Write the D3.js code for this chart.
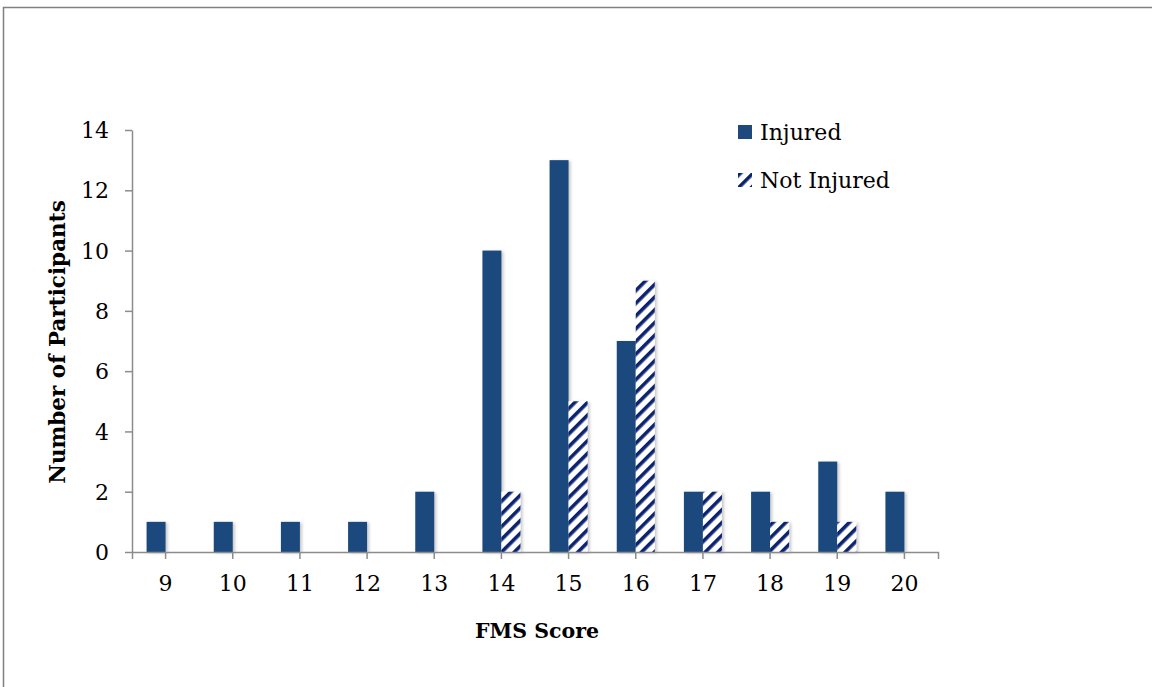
<!DOCTYPE html>
<html>
<head>
<meta charset="utf-8">
<script src="https://cdn.jsdelivr.net/npm/d3@7"></script>
<style>
  html, body { margin: 0; padding: 0; background: #fff; }
  svg { display: block; }
  text { font-family: "DejaVu Serif", "Liberation Serif", serif; fill: #000; }
</style>
</head>
<body>
<svg id="chart" width="1152" height="687"></svg>
<script>
// FMS score categories and participant counts per group
const scores = ["9", "10", "11", "12", "13", "14", "15", "16", "17", "18", "19", "20"];
const injured = [1, 1, 1, 1, 2, 10, 13, 7, 2, 2, 3, 2];
const notInjured = [0, 0, 0, 0, 0, 2, 5, 9, 2, 1, 1, 0];
const yTicks = [0, 2, 4, 6, 8, 10, 12, 14];
const seriesNames = ["Injured", "Not Injured"];

const svg = d3.select("#chart");
const W = 1152, H = 687;
const margin = { left: 132, right: 214, top: 130, bottom: 135 };
const innerW = W - margin.left - margin.right;
const innerH = H - margin.top - margin.bottom;

const blue = "#1f497d";
const navy = "#0a2170";
const axisColor = "#8c8c8c";

// outer frame
svg.append("path")
  .attr("d", `M3.5,${H} V7.5 H${W}`)
  .attr("fill", "none")
  .attr("stroke", "#808080")
  .attr("stroke-width", 1.5);

const defs = svg.append("defs");
const stripes = defs.append("pattern")
  .attr("id", "stripes")
  .attr("patternUnits", "userSpaceOnUse")
  .attr("width", 9)
  .attr("height", 9)
  .attr("patternTransform", "rotate(45)");
stripes.append("rect").attr("width", 9).attr("height", 9).attr("fill", "#fff");
stripes.append("rect").attr("width", 3.6).attr("height", 9).attr("fill", navy);

const shadow = defs.append("filter").attr("id", "shadow")
  .attr("x", "-30%").attr("y", "-10%").attr("width", "170%").attr("height", "130%");
shadow.append("feDropShadow")
  .attr("dx", 2).attr("dy", 1).attr("stdDeviation", 1.6)
  .attr("flood-color", "#000").attr("flood-opacity", 0.22);

const g = svg.append("g").attr("transform", `translate(${margin.left},${margin.top})`);

const x = d3.scaleBand().domain(scores).range([0, innerW]).padding(0);
const y = d3.scaleLinear().domain([0, 14]).range([innerH, 0]);
const barW = 19;

const rows = scores.map((s, i) => ({ s, inj: injured[i], not: notInjured[i] }));

// bars
const barsG = g.append("g").attr("filter", "url(#shadow)");
barsG.selectAll("rect.inj")
  .data(rows)
  .join("rect")
  .attr("class", "inj")
  .attr("x", d => x(d.s) + x.bandwidth() / 2 - barW)
  .attr("width", barW)
  .attr("y", d => y(d.inj))
  .attr("height", d => y(0) - y(d.inj))
  .attr("fill", blue);

barsG.selectAll("rect.not")
  .data(rows.filter(d => d.not > 0))
  .join("rect")
  .attr("class", "not")
  .attr("x", d => x(d.s) + x.bandwidth() / 2)
  .attr("width", barW)
  .attr("y", d => y(d.not))
  .attr("height", d => y(0) - y(d.not))
  .attr("fill", "url(#stripes)");

// y axis
const yAxis = g.append("g")
  .call(d3.axisLeft(y).tickValues(yTicks).tickSize(7).tickSizeOuter(0).tickPadding(16));
yAxis.select(".domain").attr("stroke", axisColor).attr("stroke-width", 1.5);
yAxis.selectAll(".tick line").attr("stroke", axisColor).attr("stroke-width", 1.5);
yAxis.selectAll(".tick text").attr("font-size", 22).attr("dy", "0.35em");

// x axis
const xAxis = g.append("g").attr("transform", `translate(0,${innerH})`)
  .call(d3.axisBottom(x).tickSize(7).tickSizeOuter(7).tickPadding(16));
xAxis.select(".domain").attr("stroke", axisColor).attr("stroke-width", 1.5);
xAxis.selectAll(".tick line").attr("stroke", axisColor).attr("stroke-width", 1.5);
xAxis.selectAll(".tick text").attr("font-size", 22);

// axis titles
svg.append("text")
  .attr("x", margin.left + innerW / 2 + 2)
  .attr("y", 638)
  .attr("text-anchor", "middle")
  .attr("font-size", 20.5)
  .attr("font-weight", "bold")
  .text("FMS Score");

svg.append("text")
  .attr("transform", `translate(65,${margin.top + innerH / 2 + 1}) rotate(-90)`)
  .attr("text-anchor", "middle")
  .attr("font-size", 21.5)
  .attr("font-weight", "bold")
  .text("Number of Participants");

// legend
const legend = svg.append("g").attr("transform", "translate(738,125)");
seriesNames.forEach((name, i) => {
  const row = legend.append("g").attr("transform", `translate(0,${i * 48})`);
  row.append("rect")
    .attr("x", 0).attr("y", 0).attr("width", 14).attr("height", 14)
    .attr("fill", i === 0 ? blue : "url(#stripes)");
  row.append("text")
    .attr("x", 22).attr("y", 15)
    .attr("font-size", 22)
    .text(name);
});
</script>
</body>
</html>
